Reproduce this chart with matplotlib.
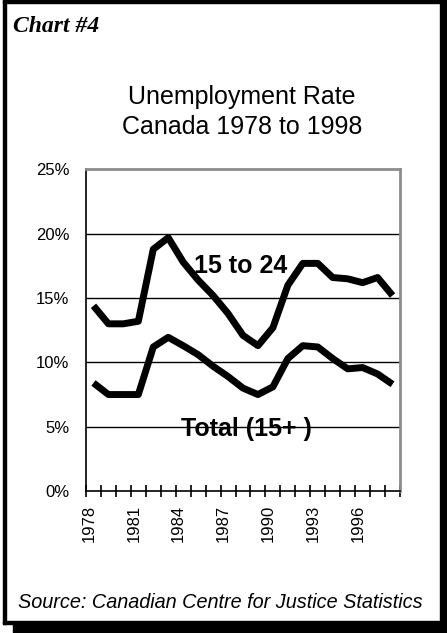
import numpy as np
import matplotlib
matplotlib.use('Agg')
from matplotlib import pyplot as plt
from matplotlib.patches import Rectangle

years = list(range(1978, 1999))
youth = [14.4, 13.0, 13.0, 13.2, 18.8, 19.7, 17.8, 16.4, 15.2, 13.8, 12.1,
         11.3, 12.7, 16.0, 17.7, 17.7, 16.6, 16.5, 16.2, 16.6, 15.2]
total = [8.4, 7.5, 7.5, 7.5, 11.2, 11.95, 11.3, 10.6, 9.7, 8.9, 8.0,
         7.5, 8.1, 10.3, 11.3, 11.2, 10.3, 9.5, 9.6, 9.1, 8.3]
yticks = [0, 5, 10, 15, 20, 25]
label_years = [1978, 1981, 1984, 1987, 1990, 1993, 1996]

plt.rcParams['font.family'] = ['Liberation Sans', 'DejaVu Sans']

W, H = 447, 633
fig = plt.figure(figsize=(W / 100, H / 100), dpi=100)
fig.patch.set_facecolor('white')

# frame with drop shadow, in pixels
def px_rect(x0, y0, x1, y1):
    fig.patches.append(Rectangle((x0 / W, 1 - y1 / H), (x1 - x0) / W, (y1 - y0) / H,
                                 transform=fig.transFigure, color='black', zorder=5))
px_rect(3, 0, 447, 3)      # top
px_rect(3, 0, 6, 624)      # left
px_rect(3, 621, 440, 624)  # bottom inner
px_rect(440, 0, 447, 633)  # right shadow
px_rect(13, 624, 447, 633) # bottom shadow

ax = fig.add_axes([86 / W, 1 - 491 / H, (400 - 86) / W, (491 - 169.5) / H])
x = np.arange(len(years))
ax.plot(x, youth, color='black', lw=5, solid_joinstyle='round', solid_capstyle='butt', zorder=3)
ax.plot(x, total, color='black', lw=5, solid_joinstyle='round', solid_capstyle='butt', zorder=3)

ax.set_xlim(-0.5, len(years) - 0.5)
ax.set_ylim(0, 25)
ax.set_yticks(yticks)
ax.set_yticklabels([f'{v}%' for v in yticks], fontsize=12)
for v in yticks[1:-1]:
    ax.axhline(v, color='black', lw=1, zorder=1)
ax.tick_params(axis='y', length=0, pad=12)

ax.set_xticks(np.arange(-0.5, len(years)), minor=True)
ax.tick_params(axis='x', which='minor', direction='inout', length=9, width=1.2, color='black')
ax.set_xticks([years.index(y) - 0.3 for y in label_years])
ax.set_xticklabels([str(y) for y in label_years], rotation=90, fontsize=12)
ax.tick_params(axis='x', which='major', length=0, pad=10)

for s in ['top', 'right']:
    ax.spines[s].set_color('#8c8c8c')
    ax.spines[s].set_linewidth(2)
for s in ['left', 'bottom']:
    ax.spines[s].set_color('black')
    ax.spines[s].set_linewidth(1.2)

ax.text(9.87, 17.5, '15 to 24', fontsize=18, fontweight='bold', ha='center', va='center', zorder=4)
ax.text(10.2, 4.8, 'Total (15+ )', fontsize=18, fontweight='bold', ha='center', va='center', zorder=4)

fig.text(13 / W, 1 - 27 / H, 'Chart #4', family='Liberation Serif', fontsize=17,
         fontweight='bold', style='italic', va='center')
fig.text(242 / W, 1 - 97 / H, 'Unemployment Rate', fontsize=18, ha='center', va='center')
fig.text(242 / W, 1 - 127 / H, 'Canada 1978 to 1998', fontsize=18, ha='center', va='center')
fig.text(18 / W, 1 - 603 / H, 'Source: Canadian Centre for Justice Statistics', fontsize=14.3,
         style='italic', va='center')

fig.savefig('out.png', dpi=100)
